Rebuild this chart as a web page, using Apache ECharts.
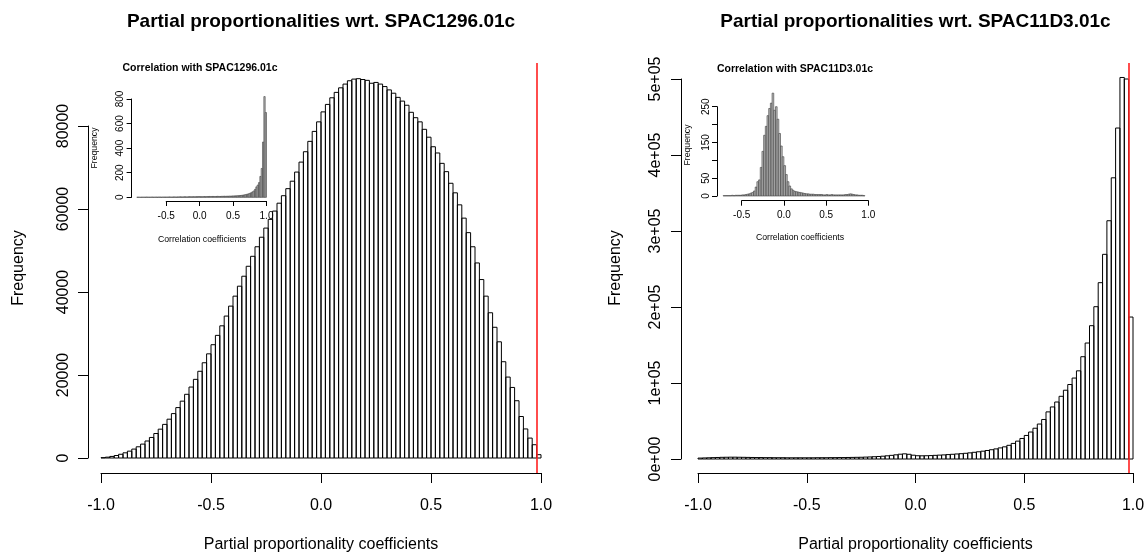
<!DOCTYPE html>
<html>
<head>
<meta charset="utf-8">
<title>Partial proportionalities</title>
<script src="https://cdn.jsdelivr.net/npm/echarts@6/dist/echarts.min.js"></script>
<style>
  html, body { margin: 0; padding: 0; background: #fff; }
  #chart { width: 1145px; height: 554px; }
</style>
</head>
<body>
<div id="chart"></div>
<script>
// histogram counts, all bins are 0.02 wide
const binWidth = 0.02

// main left: partial proportionalities wrt. SPAC1296.01c, bins from -1.0
const leftBinStart = -1
const leftCounts = [
  80, 200, 380, 600, 900, 1250, 1650, 2150, 2700, 3350,
  4100, 4950, 5900, 6950, 8100, 9350, 10700, 12150, 13700, 15350,
  17100, 18950, 20900, 22950, 25100, 27300, 29550, 31850, 34200, 36600,
  39000, 41400, 43800, 46200, 48600, 50900, 53200, 55400, 57500, 59500,
  61400, 63200, 64900, 66700, 68900, 71300, 73800, 76300, 78700, 81000,
  83400, 85200, 86800, 88100, 89200, 90100, 90900, 91300, 91400, 91200,
  91000, 90300, 90500, 90100, 89500, 88700, 87900, 86900, 86000, 85000,
  83300, 82000, 81000, 79200, 77300, 75000, 73500, 71000, 69000, 66200,
  63900, 61000, 57800, 54300, 50900, 47000, 43000, 39000, 35000, 31500,
  28000, 23200, 19500, 17000, 13800, 10000, 7000, 4800, 3200, 800
]

// main right: partial proportionalities wrt. SPAC11D3.01c, bins from -1.0
const rightBinStart = -1
const rightCounts = [
  1200, 1400, 1600, 1800, 2000, 2200, 2300, 2400, 2400, 2300,
  2200, 2100, 2000, 1900, 1900, 1800, 1800, 1700, 1700, 1700,
  1600, 1600, 1600, 1600, 1600, 1600, 1600, 1700, 1700, 1700,
  1800, 1800, 1900, 1900, 2000, 2100, 2200, 2300, 2500, 2700,
  3000, 3300, 3700, 4200, 4800, 5500, 6300, 6800, 6200, 5000,
  4300, 4200, 4300, 4500, 4800, 5100, 5400, 5800, 6200, 6600,
  7000, 7500, 8100, 8800, 9500, 10300, 11200, 12200, 13300, 14600,
  16000, 18000, 20500, 23500, 27000, 31000, 35500, 40500, 46000, 52000,
  62000, 68500, 75000, 82500, 90500, 98000, 106500, 116000, 134600, 152600,
  175400, 200400, 232000, 269300, 313500, 370000, 435500, 502000, 500000, 186800
]

// inset left: correlation with SPAC1296.01c, bins from -0.94
const leftInsetBinStart = -0.94
const leftInsetCounts = [
  1, 1, 0, 1, 1, 1, 1, 2, 1, 1, 1, 2, 1, 1, 2, 1, 2, 2, 1, 2, 2, 2, 2, 2, 3, 2, 2,
  3, 3, 2, 3, 3, 4, 3, 3, 4, 4, 3, 4, 5, 4, 4, 5, 4, 5, 5, 6, 5,
  5, 5, 6, 5, 6, 6, 7, 6, 7, 7, 6, 7, 8, 7, 7, 8, 8, 9, 8, 9, 9, 10, 10, 11,
  11, 12, 12, 13, 14, 15, 16, 18, 20, 22, 25, 28, 32, 37, 44, 52, 65, 85, 100, 120,
  170, 235, 450, 820, 690
]

// inset right: correlation with SPAC11D3.01c, bins from -0.72
const rightInsetBinStart = -0.72
const rightInsetCounts = [
  1, 1, 1, 1, 1, 2, 1, 2,
  2, 2, 2, 3, 3, 4, 5, 6, 8, 10,
  14, 25, 40, 45, 80, 125, 170, 195, 225, 245,
  260, 288, 240, 250, 215, 175, 140, 110, 85, 60,
  40, 28, 20, 16, 13, 12, 11, 10, 9, 8,
  7, 6, 6, 5, 5, 5, 4, 4, 4, 4,
  4, 3, 3, 4, 3, 3, 4, 3, 3, 3,
  3, 3, 3, 3, 4, 4, 5, 6, 5, 4,
  3, 3, 2, 2, 2, 1
]

// red reference lines
const leftCutoff = 0.978
const rightCutoff = 0.982

const mainTitles = ['Partial proportionalities wrt. SPAC1296.01c', 'Partial proportionalities wrt. SPAC11D3.01c']
const insetTitles = ['Correlation with SPAC1296.01c', 'Correlation with SPAC11D3.01c']
const mainXName = 'Partial proportionality coefficients'
const insetXName = 'Correlation coefficients'
const yName = 'Frequency'

const FONT = '"Liberation Sans", Arial, Helvetica, sans-serif'

function toBins(start, counts) {
  return counts.map((c, i) => [start + i * binWidth, start + (i + 1) * binWidth, c])
}

const fmt1 = v => v.toFixed(1)

const panels = [
  {
    plot: { left: 101, top: 63, width: 440, height: 410 }, xLim: [-1, 1], yLim: [-3614, 95180],
    xBox: { left: 101, width: 440 }, xTicks: [-1, 1, 0.5],
    yBox: { left: 88, top: 126, height: 332 }, yTicks: [0, 80000, 20000],
    yFmt: v => String(v), font: 16, tick: 10, xMargin: 25, yMargin: 16,
    bins: toBins(leftBinStart, leftCounts), cutoff: leftCutoff, inset: false
  },
  {
    plot: { left: 698, top: 63, width: 435, height: 410 }, xLim: [-1, 1], yLim: [-18421, 521053],
    xBox: { left: 698, width: 435 }, xTicks: [-1, 1, 0.5],
    yBox: { left: 681, top: 79, height: 380 }, yTicks: [0, 500000, 100000],
    yFmt: v => v === 0 ? '0e+00' : (v / 1e5) + 'e+05', font: 16, tick: 10, xMargin: 25, yMargin: 17,
    bins: toBins(rightBinStart, rightCounts), cutoff: rightCutoff, inset: false
  },
  {
    plot: { left: 131.6, top: 93, width: 140.1, height: 108 }, xLim: [-1.0176, 1.0776], yLim: [-30, 849],
    xBox: { left: 166.2, width: 100.3 }, xTicks: [-0.5, 1, 0.5],
    yBox: { left: 131.6, top: 99, height: 98.3 }, yTicks: [0, 800, 200],
    yFmt: v => String(v), font: 10, tick: 5, xMargin: 10, yMargin: 6,
    bins: toBins(leftInsetBinStart, leftInsetCounts), inset: true
  },
  {
    plot: { left: 717, top: 89, width: 153.8, height: 111.7 }, xLim: [-0.7926, 1.03], yLim: [-13.2, 299.6],
    xBox: { left: 741.7, width: 126.6 }, xTicks: [-0.5, 1, 0.5],
    yBox: { left: 717, top: 106.7, height: 89.3 }, yTicks: [0, 250, 50],
    yFmt: v => (v === 100 || v === 200) ? '' : String(v), font: 10, tick: 5, xMargin: 10, yMargin: 6,
    bins: toBins(rightInsetBinStart, rightInsetCounts), inset: true
  }
]

const grid = []
const xAxis = []
const yAxis = []
const series = []

const black = { color: '#000', width: 1 }

panels.forEach(p => {
  const g = grid.length
  const bottom = p.plot.top + p.plot.height

  // plot region, axes hidden
  grid.push({ ...p.plot, outerBoundsMode: 'none' })
  xAxis.push({ gridIndex: g, type: 'value', min: p.xLim[0], max: p.xLim[1], show: false })
  yAxis.push({ gridIndex: g, type: 'value', min: p.yLim[0], max: p.yLim[1], show: false })

  // x axis spanning only the tick range, like base R
  grid.push({ left: p.xBox.left, width: p.xBox.width, top: bottom - 10, height: 10, outerBoundsMode: 'none' })
  xAxis.push({
    gridIndex: g + 1, type: 'value', position: 'bottom',
    min: p.xTicks[0], max: p.xTicks[1], interval: p.xTicks[2],
    axisLine: { show: true, onZero: false, lineStyle: black },
    axisTick: { show: true, length: p.tick, lineStyle: black },
    axisLabel: {
      show: true, color: '#000', fontFamily: FONT, fontSize: p.font, margin: p.xMargin,
      formatter: fmt1, showMinLabel: true, showMaxLabel: true, hideOverlap: false
    },
    splitLine: { show: false }
  })
  yAxis.push({ gridIndex: g + 1, type: 'value', show: false })

  // y axis spanning only the tick range
  grid.push({ left: p.yBox.left, width: 10, top: p.yBox.top, height: p.yBox.height, outerBoundsMode: 'none' })
  xAxis.push({ gridIndex: g + 2, type: 'value', show: false })
  yAxis.push({
    gridIndex: g + 2, type: 'value', position: 'left',
    min: p.yTicks[0], max: p.yTicks[1], interval: p.yTicks[2],
    axisLine: { show: true, onZero: false, lineStyle: black },
    axisTick: { show: true, length: p.tick, lineStyle: black },
    axisLabel: {
      show: true, color: '#000', fontFamily: FONT, fontSize: p.font, margin: p.yMargin, rotate: 90,
      formatter: p.yFmt, showMinLabel: true, showMaxLabel: true, hideOverlap: false
    },
    splitLine: { show: false }
  })

  const barStyle = p.inset
    ? { fill: '#bebebe', stroke: '#3a3a3a', lineWidth: 0.6 }
    : { fill: 'rgba(0,0,0,0)', stroke: '#000', lineWidth: 1 }

  const s = {
    type: 'custom',
    xAxisIndex: g,
    yAxisIndex: g,
    z: p.inset ? 3 : 2,
    silent: true,
    data: p.bins,
    encode: { x: [0, 1], y: 2 },
    renderItem(params, api) {
      const a = api.coord([api.value(0), api.value(2)])
      const b = api.coord([api.value(1), 0])
      return {
        type: 'rect',
        shape: { x: a[0], y: a[1], width: b[0] - a[0], height: b[1] - a[1] },
        style: barStyle
      }
    }
  }
  if (p.cutoff !== undefined) {
    s.markLine = {
      silent: true, symbol: 'none', animation: false,
      label: { show: false },
      lineStyle: { color: '#ff2020', width: 1.6, type: 'solid' },
      data: [{ xAxis: p.cutoff }]
    }
  }
  series.push(s)
})

function label(text, x, y, size, opts = {}) {
  return {
    type: 'text', x, y, rotation: opts.rotate ? Math.PI / 2 : 0, z: 10, silent: true,
    style: {
      text, fill: '#000', fontFamily: FONT, fontSize: size, fontWeight: opts.bold ? 'bold' : 'normal',
      align: 'center', verticalAlign: 'middle', textAlign: 'center', textVerticalAlign: 'middle'
    }
  }
}

const graphic = [
  label(mainTitles[0], 321, 22, 19, { bold: true }),
  label(mainTitles[1], 915.5, 22, 19, { bold: true }),
  label(mainXName, 321, 545, 16),
  label(mainXName, 915.5, 545, 16),
  label(yName, 19, 268, 16, { rotate: true }),
  label(yName, 616, 268, 16, { rotate: true }),
  label(insetTitles[0], 200, 68, 10.5, { bold: true }),
  label(insetTitles[1], 795, 69, 10.5, { bold: true }),
  label(insetXName, 202, 240, 8.7),
  label(insetXName, 800, 238, 8.7),
  label(yName, 95, 148, 8.7, { rotate: true }),
  label(yName, 688, 145, 8.7, { rotate: true })
]

const chart = echarts.init(document.getElementById('chart'), null, { renderer: 'canvas' })
chart.setOption({
  animation: false,
  backgroundColor: '#fff',
  textStyle: { fontFamily: FONT },
  grid, xAxis, yAxis, series, graphic
})
</script>
</body>
</html>
